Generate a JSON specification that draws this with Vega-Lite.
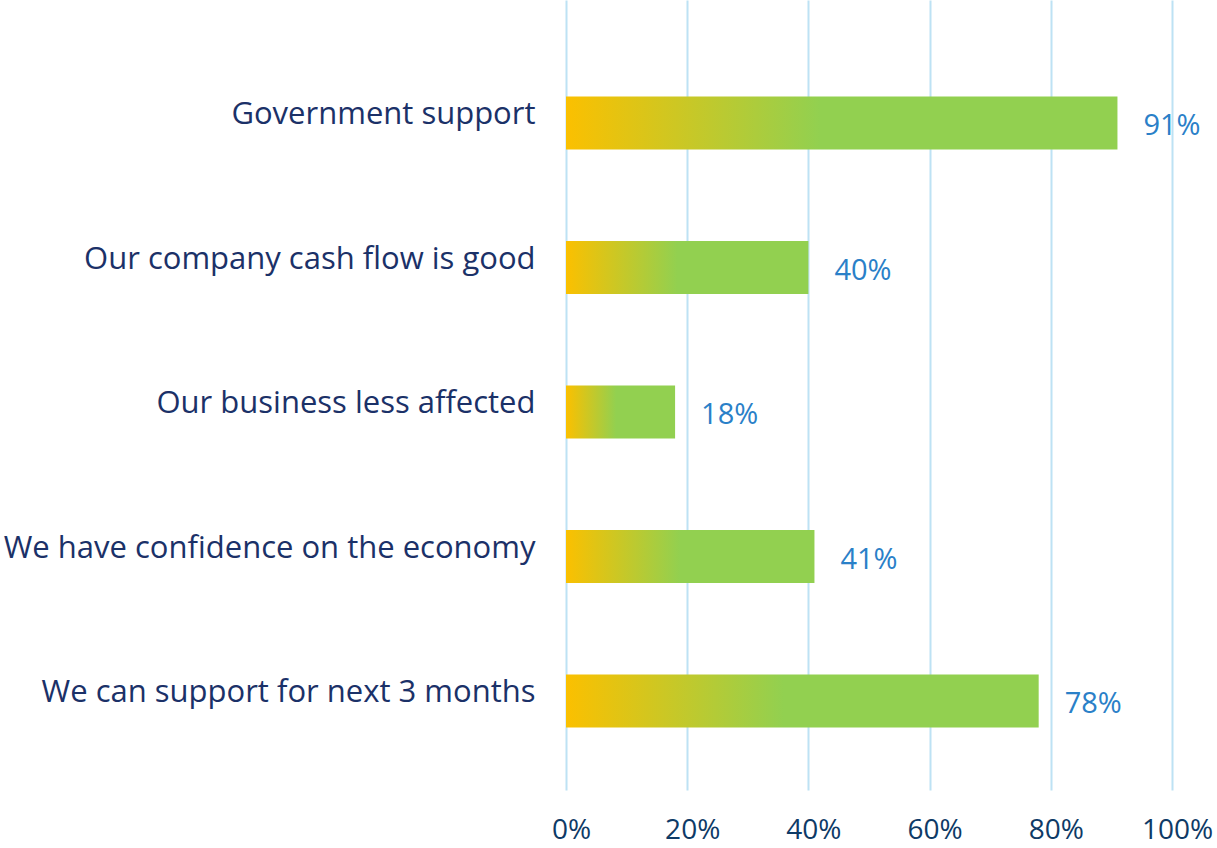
{
  "$schema": "https://vega.github.io/schema/vega-lite/v6.json",
  "width": 606,
  "height": 790,
  "autosize": {"type": "none"},
  "padding": {"left": 566, "top": 0, "right": 45, "bottom": 58},
  "background": "white",
  "config": {"view": {"stroke": null}, "font": "Open Sans"},
  "data": {
    "values": [
      {"label": "Government support", "value": 0.91},
      {"label": "Our company cash flow is good", "value": 0.40},
      {"label": "Our business less affected", "value": 0.18},
      {"label": "We have confidence on the economy", "value": 0.41},
      {"label": "We can support for next 3 months", "value": 0.78}
    ]
  },
  "encoding": {
    "y": {
      "field": "label",
      "type": "nominal",
      "sort": null,
      "scale": {"paddingInner": 0.633, "paddingOuter": 0.55, "align": 0.607},
      "axis": {
        "title": null,
        "ticks": false,
        "domain": false,
        "grid": false,
        "labelPadding": 31,
        "labelFontSize": 31,
        "labelColor": "#1B3168",
        "labelOffset": -8,
        "labelLimit": 600
      }
    },
    "x": {
      "field": "value",
      "type": "quantitative",
      "scale": {"domain": [0, 1], "nice": false},
      "axis": {
        "title": null,
        "values": [0, 0.2, 0.4, 0.6, 0.8, 1],
        "format": ".0%",
        "ticks": false,
        "domain": false,
        "grid": true,
        "gridColor": "#BDE2F4",
        "gridWidth": 2,
        "labelPadding": 26,
        "labelFontSize": 28,
        "labelColor": "#0E3A66",
        "labelFlush": false,
        "labelOffset": 5
      }
    }
  },
  "layer": [
    {
      "mark": {
        "type": "bar",
        "color": {
          "gradient": "linear",
          "x1": 0, "x2": 1, "y1": 0, "y2": 0,
          "stops": [
            {"offset": 0, "color": "#FBC000"},
            {"offset": 0.46, "color": "#92D050"},
            {"offset": 1, "color": "#92D050"}
          ]
        }
      }
    },
    {
      "mark": {
        "type": "text",
        "align": "left",
        "baseline": "middle",
        "dx": 26,
        "dy": 3,
        "fontSize": 29,
        "color": "#2A80C8"
      },
      "encoding": {
        "text": {"field": "value", "type": "quantitative", "format": ".0%"}
      }
    }
  ]
}
